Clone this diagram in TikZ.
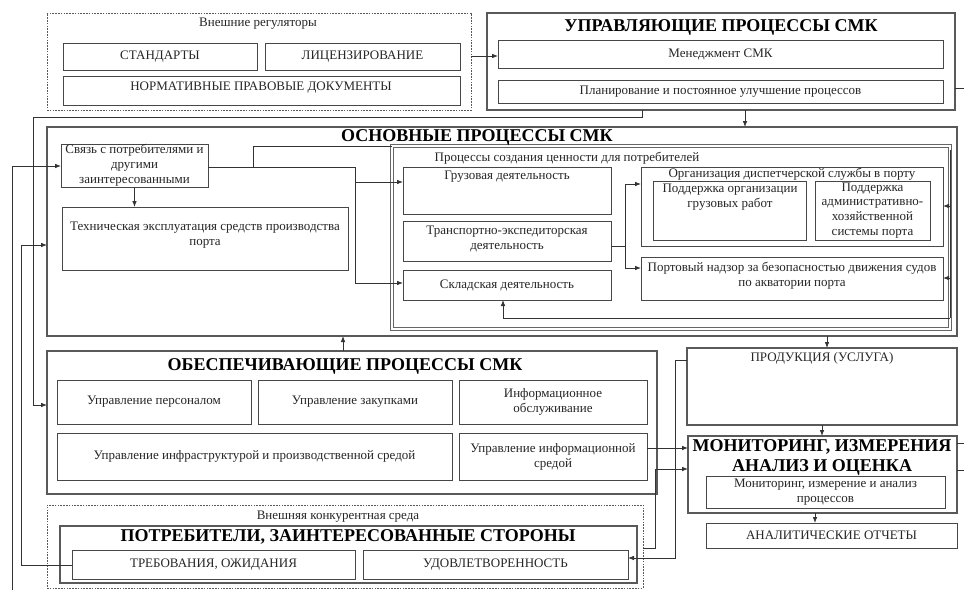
\documentclass[tikz,border=0pt]{standalone}
\usepackage{fontspec}
\setmainfont{Liberation Serif}
\usetikzlibrary{arrows.meta,fit,calc}
\begin{document}
\begin{tikzpicture}[x=1pt,y=-1pt,
  box/.style={draw=black!72, line width=0.8pt, inner sep=0pt, outer sep=0pt},
  bigbox/.style={draw=black!65, line width=1.2pt, inner sep=0pt, outer sep=0pt},
  dblbox/.style={draw=black!60, line width=0.7pt, double=white, double distance=2.2pt, inner sep=0pt, outer sep=0pt},
  dbox/.style={draw=black!65, line width=0.8pt, dash pattern=on 1.6pt off 1.2pt, inner sep=0pt, outer sep=0pt},
  txt/.style={font=\fontsize{13}{14.8}\selectfont, align=center, text=black!85, inner sep=0pt},
  ttl/.style={font=\fontsize{18}{20}\selectfont\bfseries, align=center, inner sep=0pt},
  ln/.style={draw=black!80, line width=0.8pt},
  arr/.style={ln, -{Latex[length=6pt,width=4.6pt]}},
]
\fill[white] (0,0) rectangle (964,590);
\useasboundingbox (0,0) rectangle (964,590);

% ---------- external regulators ----------
\node[dbox, fit={(47,13)(471,110)}] (ext) {};
\node[txt] (ext-t) at (258,24) {Внешние регуляторы};
\node[box, fit={(63,43)(257,70)}] (stand) {};
\node[txt] at (stand) (stand-t) {СТАНДАРТЫ};
\node[box, fit={(265,43)(460,70)}] (lic) {};
\node[txt] at (lic) (lic-t) {ЛИЦЕНЗИРОВАНИЕ};
\node[box, fit={(63,76)(460,105)}] (norm) {};
\node[txt] at (261,88) (norm-t) {НОРМАТИВНЫЕ ПРАВОВЫЕ ДОКУМЕНТЫ};

% ---------- management processes ----------
\node[bigbox, fit={(487,13)(955,110)}] (upr) {};
\node[ttl] (upr-t) at (721,27) {УПРАВЛЯЮЩИЕ ПРОЦЕССЫ СМК};
\node[box, fit={(498,40)(943,68)}] (mgmt) {};
\node[txt] at (mgmt) (mgmt-t) {Менеджмент СМК};
\node[box, fit={(498,80)(943,103)}] (plan) {};
\node[txt] at (plan) (plan-t) {Планирование и постоянное улучшение процессов};

% ---------- main processes ----------
\node[bigbox, fit={(47,127)(957,336)}] (osn) {};
\node[box, fit={(61,144)(208,187)}] (svyaz) {};
\node[txt] at (svyaz) (svyaz-t) {Связь с потребителями и\\другими\\заинтересованными};
\node[box, fit={(62,207)(348,270)}] (tech) {};
\node[txt] at (205,235) (tech-t) {Техническая эксплуатация средств производства\\порта};

\node[dblbox, fit={(392,146)(950,329)}] (val) {};
\node[txt] (val-t) at (567,158) {Процессы создания ценности для потребителей};
\node[box, fit={(403,167)(611,214)}] (gruz) {};
\node[txt] at (507,177) (gruz-t) {Грузовая деятельность};
\node[box, fit={(403,221)(611,261)}] (trans) {};
\node[txt] at (507,239) (trans-t) {Транспортно-экспедиторская\\деятельность};
\node[box, fit={(403,270)(611,300)}] (sklad) {};
\node[txt] at (sklad) (sklad-t) {Складская деятельность};
\node[ttl] (osn-t) at (477,137.5) {ОСНОВНЫЕ ПРОЦЕССЫ СМК};

\node[box, fit={(641,167)(943,246)}] (org) {};
\node[txt] at (792,174) (org-t) {Организация диспетчерской службы в порту};
\node[box, fit={(653,181)(806,240)}] (podd1) {};
\node[txt] at (730,197) (podd1-t) {Поддержка организации\\грузовых работ};
\node[box, fit={(815,181)(930,240)}] (podd2) {};
\node[txt] at (podd2) (podd2-t) {Поддержка\\административно-\\хозяйственной\\системы порта};
\node[box, fit={(641,257)(943,300)}] (nadz) {};
\node[txt] at (792,276) (nadz-t) {Портовый надзор за безопасностью движения судов\\по акватории порта};

% ---------- supporting processes ----------
\node[bigbox, fit={(47,351)(657,494)}] (obesp) {};
\node[ttl] (obesp-t) at (345,366) {ОБЕСПЕЧИВАЮЩИЕ ПРОЦЕССЫ СМК};
\node[box, fit={(57,380)(251,424)}] (pers) {};
\node[txt] at (pers) (pers-t) {Управление персоналом};
\node[box, fit={(258,380)(452,424)}] (zak) {};
\node[txt] at (zak) (zak-t) {Управление закупками};
\node[box, fit={(459,380)(647,424)}] (info) {};
\node[txt] at (info) (info-t) {Информационное\\обслуживание};
\node[box, fit={(57,433)(452,480)}] (infra) {};
\node[txt] at (infra) (infra-t) {Управление инфраструктурой и производственной средой};
\node[box, fit={(459,433)(647,480)}] (infsr) {};
\node[txt] at (infsr) (infsr-t) {Управление информационной\\средой};

% ---------- right column ----------
\node[bigbox, fit={(687,348)(957,425)}] (prod) {};
\node[txt] at (822,358) (prod-t) {ПРОДУКЦИЯ (УСЛУГА)};
\node[bigbox, fit={(688,436)(957,513)}] (mon) {};
\node[ttl] at (822,457) (mon-t) {МОНИТОРИНГ, ИЗМЕРЕНИЯ\\АНАЛИЗ И ОЦЕНКА};
\node[box, fit={(706,476)(945,508)}] (mon2) {};
\node[txt] at (mon2) (mon2-t) {Мониторинг, измерение и анализ\\процессов};
\node[box, fit={(706,523)(957,548)}] (anal) {};
\node[txt] at (anal) (anal-t) {АНАЛИТИЧЕСКИЕ ОТЧЕТЫ};

% ---------- consumers ----------
\node[dbox, fit={(47,505)(643,588)}] (konk) {};
\node[txt] at (338,517) (konk-t) {Внешняя конкурентная среда};
\node[bigbox, fit={(60,526)(637,583)}] (potr) {};
\node[ttl] at (348,537) (potr-t) {ПОТРЕБИТЕЛИ, ЗАИНТЕРЕСОВАННЫЕ СТОРОНЫ};
\node[box, fit={(72,550)(355,579)}] (treb) {};
\node[txt] at (treb) (treb-t) {ТРЕБОВАНИЯ, ОЖИДАНИЯ};
\node[box, fit={(363,550)(628,579)}] (udov) {};
\node[txt] at (udov) (udov-t) {УДОВЛЕТВОРЕННОСТЬ};

% ---------- free ends ----------
\coordinate (edgeR1) at (964,88);
\coordinate (edgeR2) at (964,443);
\coordinate (edgeR3) at (964,470);
\coordinate (edgeB) at (12,590);

% ---------- connectors ----------
\draw[arr] (ext.east |- 0,56) -- (mgmt.west |- 0,56);
\draw[ln] (upr.east |- edgeR1) -- (edgeR1);
\draw[arr] (upr.south -| 745,0) -- (osn.north -| 745,0);
\draw[arr] (upr.south -| 642,0) -- (642,117) -- (33,117) -- (33,405) -- (obesp.west |- 0,405);
\draw[arr] (edgeB) -- (12,166) -- (svyaz.west |- 0,166);
\draw[arr] (treb.west |- 0,565) -- (21,565) -- (21,245) -- (osn.west |- 0,245);
\draw[arr] (svyaz.south) -- (tech.north -| svyaz.south);
\draw[arr] (svyaz.east |- 0,167) -- (355,167) -- (355,283) -- (sklad.west |- 0,283);
\draw[arr] (355,182) -- (gruz.west |- 0,182);
\draw[ln] (253,167) -- (253,146) -- (val.north west);
\draw[ln] (trans.east |- 0,246) -- (625,246);
\draw[arr] (625,184) -- (625,268) -- (nadz.west |- 0,268);
\draw[arr] (625,184) -- (org.west |- 0,184);
\draw[arr] (950,318) -- (503,318) -- (sklad.south -| 503,0);
\draw[ln] (950,150) -- (950,318);
\draw[arr] (950,206) -- (org.east |- 0,206);
\draw[arr] (950,278) -- (nadz.east |- 0,278);
\draw[arr] (osn.south -| 827,0) -- (prod.north -| 827,0);
\draw[arr] (obesp.north -| 343,0) -- (osn.south -| 343,0);
\draw[arr] (infsr.east |- 0,448) -- (mon.west |- 0,448);
\draw[arr] (konk.east |- 0,548) -- (655,548) -- (655,469) -- (mon.west |- 0,469);
\draw[arr] (prod.west |- 0,360) -- (675,360) -- (675,558) -- (udov.east |- 0,558);
\draw[arr] (prod.south -| 822,0) -- (mon.north -| 822,0);
\draw[arr] (mon.south -| 815,0) -- (anal.north -| 815,0);
\draw[ln] (mon.east |- edgeR2) -- (edgeR2);
\draw[ln] (mon.east |- edgeR3) -- (edgeR3);
\end{tikzpicture}
\end{document}
